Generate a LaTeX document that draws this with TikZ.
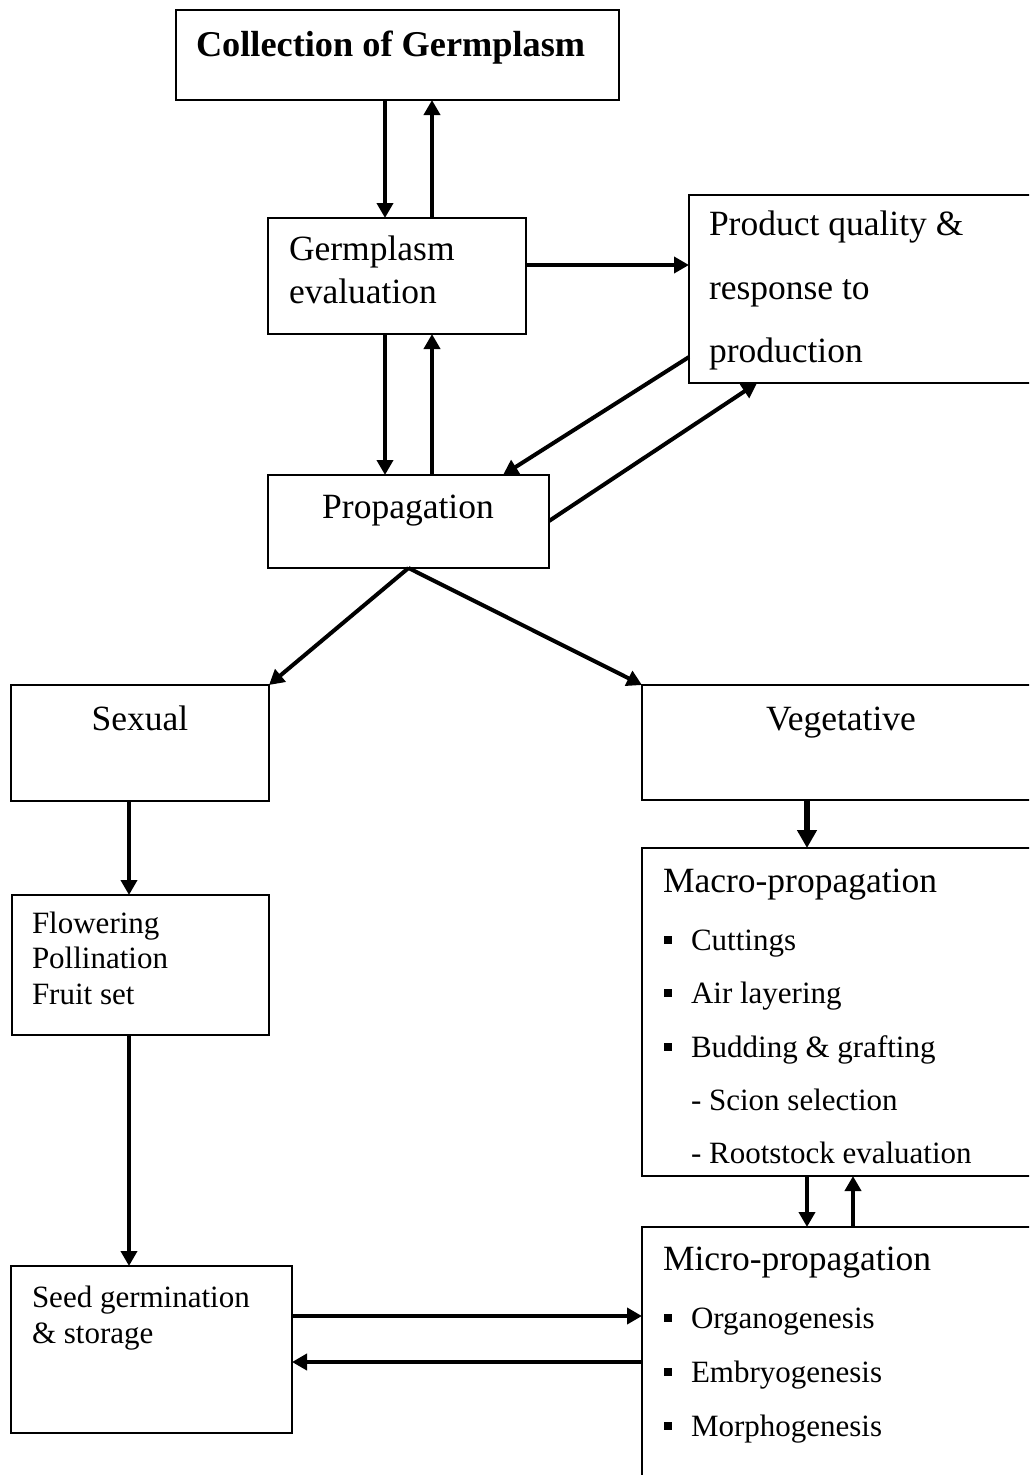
\documentclass[tikz,border=0pt]{standalone}
\usepackage{fontspec}
\setmainfont{Liberation Serif}
\usetikzlibrary{arrows.meta,calc}
\newcommand\sqbul{\llap{\raisebox{6pt}{\rule{8pt}{8pt}}\hspace{19pt}}}
\begin{document}
\begin{tikzpicture}[x=1pt,y=-1pt,
  box/.style={draw, line width=2.2pt, anchor=north west, inner sep=0pt, outer sep=0pt},
  big/.style={font=\fontsize{35.5}{43}\selectfont, inner sep=0pt, outer sep=0pt, anchor=base west},
  bigc/.style={big, anchor=base},
  bold/.style={font=\fontsize{36.3}{43}\selectfont\bfseries, inner sep=0pt, outer sep=0pt, anchor=base west},
  small/.style={font=\fontsize{31}{36}\selectfont, inner sep=0pt, outer sep=0pt, anchor=base west},
  arr/.style={line width=4pt, -{Triangle[length=15pt,width=16pt]}},
  thickarr/.style={line width=6.5pt, -{Triangle[length=18pt,width=19pt]}}
]
\clip (0,0) rectangle (1029,1475);
\fill[white] (0,0) rectangle (1029,1475);

% boxes
\node[box, minimum width=443pt, minimum height=90pt] (coll) at (176,10) {};
\node[box, minimum width=258pt, minimum height=116pt] (germ) at (268,218) {};
\node[box, minimum width=360pt, minimum height=188pt] (prod) at (689,195) {};
\node[box, minimum width=281pt, minimum height=93pt] (prop) at (268,475) {};
\node[box, minimum width=258pt, minimum height=116pt] (sex) at (11,685) {};
\node[box, minimum width=400pt, minimum height=115pt] (veg) at (642,685) {};
\node[box, minimum width=257pt, minimum height=140pt] (flow) at (12,895) {};
\node[box, minimum width=400pt, minimum height=328pt] (macro) at (642,848) {};
\node[box, minimum width=400pt, minimum height=300pt] (micro) at (642,1227) {};
\node[box, minimum width=281pt, minimum height=167pt] (seed) at (11,1266) {};

% texts
\node[bold] (tcoll) at (196,56) {Collection of Germplasm};
\node[big] (tgerm1) at (289,260) {Germplasm};
\node[big] (tgerm2) at (289,303) {evaluation};
\node[big] (tprod1) at (709,235) {Product quality \&};
\node[big] (tprod2) at (709,299) {response to};
\node[big] (tprod3) at (709,362) {production};
\node[bigc] (tprop) at (408,518) {Propagation};
\node[bigc] (tsex) at (140,730) {Sexual};
\node[bigc] (tveg) at (841,730) {Vegetative};
\node[small] (tflow1) at (32,933) {Flowering};
\node[small] (tflow2) at (32,968) {Pollination};
\node[small] (tflow3) at (32,1004) {Fruit set};
\node[big] (tmacro) at (663,892) {Macro-propagation};
\node[small] (tm1) at (691,950) {\sqbul Cuttings};
\node[small] (tm2) at (691,1003) {\sqbul Air layering};
\node[small] (tm3) at (691,1057) {\sqbul Budding \& grafting};
\node[small] (tm4) at (691,1110) {- Scion selection};
\node[small] (tm5) at (691,1163) {- Rootstock evaluation};
\node[big] (tmicro) at (663,1270) {Micro-propagation};
\node[small] (tu1) at (691,1328) {\sqbul Organogenesis};
\node[small] (tu2) at (691,1382) {\sqbul Embryogenesis};
\node[small] (tu3) at (691,1436) {\sqbul Morphogenesis};
\node[small] (tseed1) at (32,1307) {Seed germination};
\node[small] (tseed2) at (32,1343) {\& storage};

% connectors
\draw[arr] (385,0 |- coll.south) -- (385,0 |- germ.north);
\draw[arr] (432,0 |- germ.north) -- (432,0 |- coll.south);
\draw[arr] (385,0 |- germ.south) -- (385,0 |- prop.north);
\draw[arr] (432,0 |- prop.north) -- (432,0 |- germ.south);
\draw[arr] (germ.east |- 0,265) -- (prod.west |- 0,265);
\draw[arr] (prod.west |- 0,357) -- (503,0 |- prop.north);
\draw[arr] (prop.east |- 0,521) -- (757,0 |- prod.south);
\draw[arr] (prop.south) -- (sex.north east);
\draw[arr] (prop.south) -- (veg.north west);
\draw[thickarr] (807,0 |- veg.south) -- (807,0 |- macro.north);
\draw[arr] (129,0 |- sex.south) -- (129,0 |- flow.north);
\draw[arr] (129,0 |- flow.south) -- (129,0 |- seed.north);
\draw[arr] (807,0 |- macro.south) -- (807,0 |- micro.north);
\draw[arr] (853,0 |- micro.north) -- (853,0 |- macro.south);
\draw[arr] (seed.east |- 0,1316) -- (micro.west |- 0,1316);
\draw[arr] (micro.west |- 0,1362) -- (seed.east |- 0,1362);
\end{tikzpicture}
\end{document}
